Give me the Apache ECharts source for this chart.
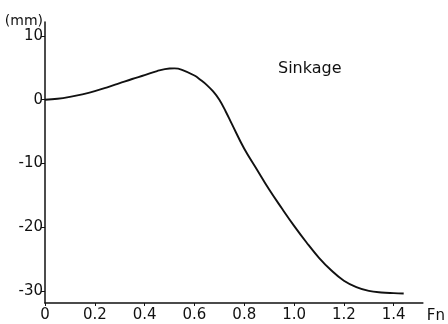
<!DOCTYPE html>
<html>
<head>
<meta charset="utf-8">
<style>
  html, body { margin: 0; padding: 0; background: #fff; }
  #chart { width: 448px; height: 324px; }
</style>
<script src="https://cdn.jsdelivr.net/npm/echarts@6/dist/echarts.min.js"></script>
</head>
<body>
<div id="chart"></div>
<script>
// Froude number and measured sinkage (mm)
const froude = [0, 0.05, 0.1, 0.15, 0.2, 0.25, 0.3, 0.35, 0.4, 0.45, 0.5, 0.52, 0.55, 0.6, 0.625, 0.65,
  0.675, 0.7, 0.725, 0.75, 0.8, 0.85, 0.9, 0.95, 1.0, 1.05, 1.1, 1.15, 1.2, 1.25, 1.3, 1.35, 1.4, 1.44];
const sinkage = [0, 0.15, 0.45, 0.85, 1.35, 1.95, 2.6, 3.25, 3.85, 4.5, 4.9, 4.92, 4.7, 3.8, 3.1, 2.3,
  1.3, 0.0, -1.8, -3.8, -7.7, -10.9, -14.1, -17.0, -19.8, -22.4, -24.8, -26.8, -28.4, -29.4, -30.0, -30.25, -30.35, -30.4];

const xTicks = [0, 0.2, 0.4, 0.6, 0.8, 1.0, 1.2, 1.4];
const yTicks = [-30, -20, -10, 0, 10];

const font = 'DejaVu Sans';
const chart = echarts.init(document.getElementById('chart'));

chart.setOption({
  animation: false,
  backgroundColor: '#fff',
  grid: { left: 45, right: 20, top: 22, bottom: 21 },
  xAxis: {
    type: 'value',
    min: 0,
    max: 1.517,
    name: 'Fn',
    nameLocation: 'end',
    nameGap: 4,
    nameTextStyle: { fontFamily: font, fontSize: 15, color: '#111', verticalAlign: 'top', padding: [6, 0, 0, 0] },
    axisLine: { show: true, onZero: false, lineStyle: { color: '#111', width: 1.5 } },
    axisTick: { show: true, customValues: xTicks, length: 3, lineStyle: { color: '#111' } },
    axisLabel: {
      customValues: xTicks,
      fontFamily: font, fontSize: 15, color: '#111', margin: 5,
      formatter: v => (v === 0 ? '0' : v.toFixed(1))
    },
    splitLine: { show: false }
  },
  yAxis: {
    type: 'value',
    min: -31.9,
    max: 12.2,
    name: '(mm)',
    nameLocation: 'end',
    nameGap: 2,
    nameTextStyle: { fontFamily: font, fontSize: 14, color: '#111', align: 'right', padding: [0, 2, -8, 0] },
    axisLine: { show: true, onZero: false, lineStyle: { color: '#111', width: 1.5 } },
    axisTick: { show: true, customValues: yTicks, length: 4, lineStyle: { color: '#111' } },
    axisLabel: {
      customValues: yTicks,
      fontFamily: font, fontSize: 15, color: '#111', margin: 2
    },
    splitLine: { show: false }
  },
  series: [{
    type: 'line',
    data: froude.map((f, i) => [f, sinkage[i]]),
    smooth: 0.4,
    showSymbol: false,
    lineStyle: { color: '#111', width: 1.9 }
  }],
  graphic: [{
    type: 'text',
    left: 278,
    top: 61,
    style: { text: 'Sinkage', fontFamily: font, fontSize: 16, fill: '#111' }
  }]
});
</script>
</body>
</html>
